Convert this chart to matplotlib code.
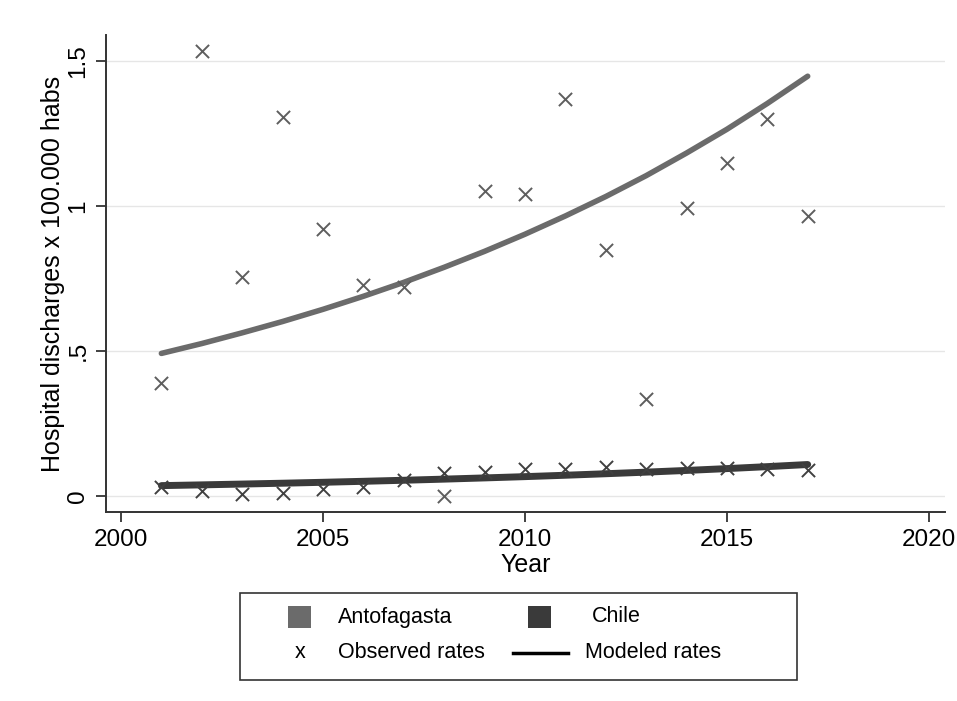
import numpy as np
import matplotlib
matplotlib.use('Agg')
import matplotlib.pyplot as plt
from matplotlib.patches import Rectangle
from matplotlib.lines import Line2D

plt.rcParams['font.family'] = ['Liberation Sans', 'DejaVu Sans']

# observed and modeled rates
years = [2001, 2002, 2003, 2004, 2005, 2006, 2007, 2008, 2009,
         2010, 2011, 2012, 2013, 2014, 2015, 2016, 2017]
antof_obs = [0.389, 1.535, 0.756, 1.308, 0.921, 0.728, 0.722, 0.0, 1.053,
             1.041, 1.371, 0.848, 0.334, 0.995, 1.149, 1.302, 0.966]
chile_obs = [0.032, 0.018, 0.006, 0.011, 0.025, 0.030, 0.055, 0.080, 0.084,
             0.095, 0.095, 0.101, 0.095, 0.098, 0.098, 0.095, 0.090]
antof_mod = [0.492, 0.526, 0.563, 0.602, 0.644, 0.689, 0.737, 0.789, 0.844,
             0.903, 0.966, 1.033, 1.105, 1.183, 1.265, 1.354, 1.448]
chile_mod = [0.036, 0.0386, 0.0414, 0.0443, 0.0475, 0.0509, 0.0545, 0.0584, 0.0626,
             0.067, 0.0718, 0.077, 0.0825, 0.0884, 0.0947, 0.1015, 0.1088]

yticks = [0, 0.5, 1, 1.5]
ytick_labels = ['0', '.5', '1', '1.5']
xticks = [2000, 2005, 2010, 2015, 2020]

c_antof = '#6b6b6b'
c_chile = '#3a3a3a'

W, H = 957, 701
fig = plt.figure(figsize=(W / 100, H / 100), dpi=100)
ax = fig.add_axes([0.1108, 0.2696, 0.8767, 0.6804])

for yv in yticks:
    ax.axhline(yv, color='#e6e6e6', lw=1.0, zorder=0)

ax.plot(years, antof_mod, color=c_antof, lw=4, solid_capstyle='round', zorder=2)
ax.plot(years, chile_mod, color=c_chile, lw=5, solid_capstyle='round', zorder=2)
ax.scatter(years, antof_obs, marker='x', s=90, color='#5e5e5e', linewidths=1.4, zorder=3)
ax.scatter(years, chile_obs, marker='x', s=90, color='#404040', linewidths=1.4, zorder=3)

ax.set_xlim(1999.63, 2020.4)
ax.set_ylim(-0.055, 1.59)
ax.set_xticks(xticks)
ax.set_yticks(yticks)
ax.set_yticklabels(ytick_labels, rotation=90, va='center')
ax.tick_params(axis='both', labelsize=17.5, length=7, width=1.3, color='#333333')
ax.tick_params(axis='y', pad=5)
ax.tick_params(axis='x', pad=5)
for s in ['top', 'right']:
    ax.spines[s].set_visible(False)
for s in ['left', 'bottom']:
    ax.spines[s].set_color('#333333')
    ax.spines[s].set_linewidth(1.4)

ax.set_xlabel('Year', fontsize=18)
ax.set_ylabel('Hospital discharges x 100.000 habs', fontsize=18)
ax.xaxis.set_label_coords(0.5, -0.086, transform=ax.transAxes)
ax.yaxis.set_label_coords(-0.049, 0.5, transform=ax.transAxes)


# legend drawn by hand in pixel positions of the figure
def fx(px):
    return px / W


def fy(py):
    return 1 - py / H


fig.patches.append(Rectangle((fx(240), fy(680)), fx(797) - fx(240), fy(593) - fy(680),
                             transform=fig.transFigure, fill=False,
                             edgecolor='#333333', lw=1.2))
fig.patches.append(Rectangle((fx(288), fy(628)), fx(23), 22 / H,
                             transform=fig.transFigure, facecolor=c_antof, edgecolor='none'))
fig.patches.append(Rectangle((fx(528), fy(628)), fx(23), 22 / H,
                             transform=fig.transFigure, facecolor=c_chile, edgecolor='none'))
fig.lines.append(Line2D([fx(513), fx(568)], [fy(653), fy(653)],
                        transform=fig.transFigure, color='black', lw=2.5))
fs = 15.5
fig.text(fx(300), fy(653), 'x', fontsize=fs, ha='center', va='center')
fig.text(fx(338), fy(617), 'Antofagasta', fontsize=fs, ha='left', va='center')
fig.text(fx(338), fy(653), 'Observed rates', fontsize=fs, ha='left', va='center')
fig.text(fx(592), fy(617), 'Chile', fontsize=fs, ha='left', va='center')
fig.text(fx(585), fy(653), 'Modeled rates', fontsize=fs, ha='left', va='center')

fig.savefig('out.png', dpi=100, facecolor='white')
